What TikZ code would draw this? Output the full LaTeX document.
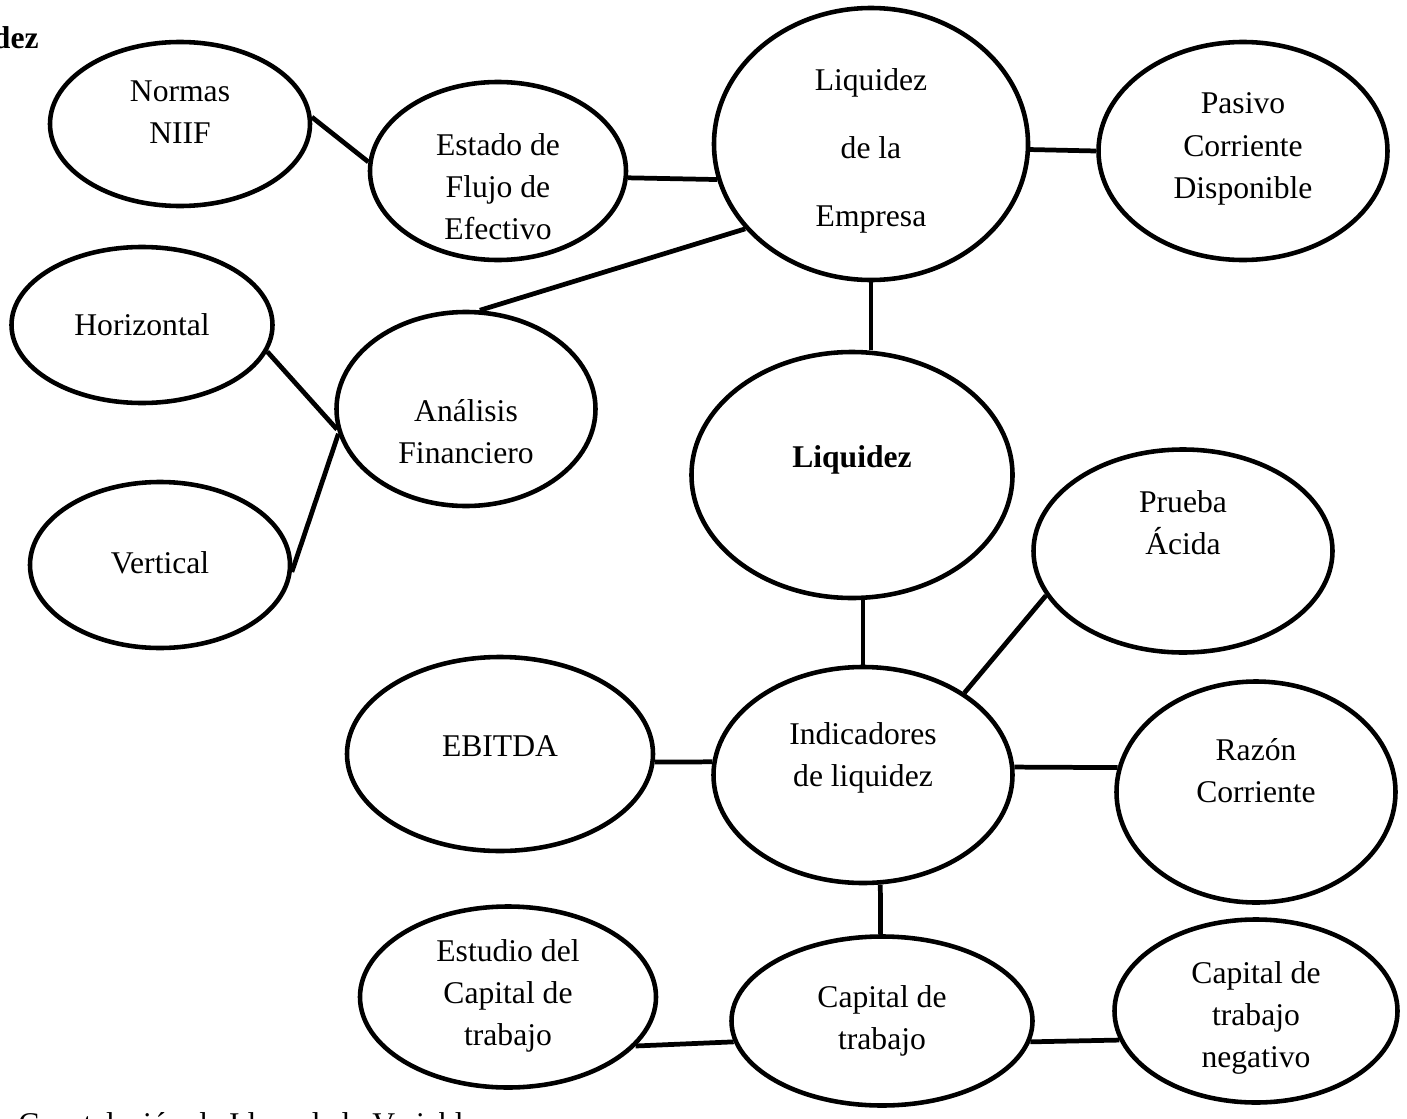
\documentclass[tikz,border=0pt]{standalone}
\usepackage{fontspec}
\setmainfont{Liberation Serif}
\usetikzlibrary{shapes.geometric}

\begin{document}
\begin{tikzpicture}[x=0.02cm,y=-0.02cm,
            idea/.style={ellipse, draw, line width=2.6pt, inner sep=0pt},
            sz/.style 2 args={minimum width=#1*0.02cm, minimum height=#2*0.02cm},
            txt/.style={align=center, inner sep=0pt, font=\fontsize{18}{24}\selectfont},
            link/.style={line width=2.7pt}]
            \useasboundingbox (0,0) rectangle (1407,1119);

            \node[idea, sz={260}{164}] at (180,124) (normas) {};
            \node[idea, sz={256}{178}] at (498,171) (estado) {};
            \node[idea, sz={314}{272}] at (871,144) (empresa) {};
            \node[idea, sz={289}{218}] at (1243,151) (pasivo) {};
            \node[idea, sz={261}{156}] at (142,325) (horiz) {};
            \node[idea, sz={259}{194}] at (466,409) (analisis) {};
            \node[idea, sz={321}{246}] at (852,475) (liquidez) {};
            \node[idea, sz={260}{166}] at (160,565) (vert) {};
            \node[idea, sz={299}{203}] at (1183,551) (prueba) {};
            \node[idea, sz={306}{194}] at (500,754) (ebitda) {};
            \node[idea, sz={299}{216}] at (863,775) (indic) {};
            \node[idea, sz={279}{221}] at (1256,792) (razon) {};
            \node[idea, sz={296}{181}] at (508,997) (estudio) {};
            \node[idea, sz={301}{169}] at (882,1021) (capital) {};
            \node[idea, sz={283}{183}] at (1256,1011) (negativo) {};

            \node[txt] at (180,112) (normas-t) {Normas\\NIIF};
            \node[txt] at (498,187) (estado-t) {Estado de\\Flujo de\\Efectivo};
            \node[txt, font=\fontsize{18}{38.5}\selectfont] at (871,151) (empresa-t) {Liquidez\\de la\\Empresa};
            \node[txt] at (1243,149) (pasivo-t) {Pasivo\\Corriente\\Disponible};
            \node[txt] at (142,325) (horiz-t) {Horizontal};
            \node[txt] at (466,432) (analisis-t) {Análisis\\Financiero};
            \node[txt] at (852,460) (liquidez-t) {\textbf{Liquidez}};
            \node[txt] at (160,563) (vert-t) {Vertical};
            \node[txt] at (1183,523) (prueba-t) {Prueba\\Ácida};
            \node[txt] at (500,746) (ebitda-t) {EBITDA};
            \node[txt] at (863,758) (indic-t) {Indicadores\\de liquidez};
            \node[txt] at (1256,771) (razon-t) {Razón\\Corriente};
            \node[txt] at (508,996) (estudio-t) {Estudio del\\Capital de\\trabajo};
            \node[txt] at (882,1021) (capital-t) {Capital de\\trabajo};
            \node[txt] at (1256,1018) (negativo-t) {Capital de\\trabajo\\negativo};

            \node[txt, anchor=base east] at (39,49) (titulo) {\textbf{Liquidez}};
            \node[txt, anchor=base west] at (18,1134) (pie) {Constelación de Ideas de la Variable};

            \draw[link] (normas.3) -- (estado.176);
            \draw[link] (estado.-3) -- (empresa.193);
            \draw[link] (empresa.-2) -- (pasivo.180);
            \draw[link] (analisis.82) -- (empresa.214);
            \draw[link] (horiz.-12) -- (analisis.189);
            \draw[link] (vert.-3) -- (analisis.191);
            \draw[link] (empresa.south) -- (empresa.south |- liquidez.north);
            \draw[link] (indic.north) -- (indic.north |- liquidez.south);
            \draw[link] (indic.39) -- (prueba.198);
            \draw[link] (ebitda.-3) -- (indic.175);
            \draw[link] (indic.3) -- (razon.170);
            \draw[link] (indic.-81) -- (capital.91);
            \draw[link] (estudio.-21) -- (capital.188);
            \draw[link] (capital.-8) -- (negativo.192);
        \end{tikzpicture}
\end{document}
